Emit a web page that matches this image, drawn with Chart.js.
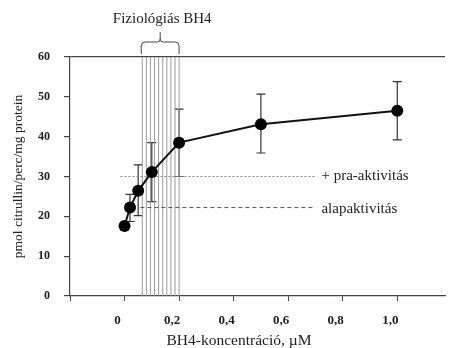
<!DOCTYPE html>
<html><head><meta charset="utf-8">
<script src="https://cdn.jsdelivr.net/npm/chart.js@4"></script>
<style>html,body{margin:0;padding:0;background:#fff}#w{width:451px;height:348px;position:relative}</style>
</head><body><div id="w"><canvas id="c"></canvas></div>
<script>
// ---- data ----
const concentrations = [0, 0.02, 0.05, 0.1, 0.2, 0.5, 1.0];
const activity = [17.6, 22.2, 26.4, 31.1, 38.5, 43.1, 46.5];
const errUpper = [null, 25.5, 32.9, 38.5, 46.9, 50.7, 53.8];
const errLower = [null, 18.7, 20.2, 23.7, 30.0, 35.9, 39.2];
const xTicks = [-0.2, 0, 0.2, 0.4, 0.6, 0.8, 1.0];
const xTickLabels = ['', '0', '0,2', '0,4', '0,6', '0,8', '1,0'];
const yTicks = [0, 10, 20, 30, 40, 50, 60];
const physioLines = [0.065, 0.08, 0.095, 0.11, 0.125, 0.14, 0.155, 0.17, 0.185, 0.2];
const physioLabel = 'Fiziológiás BH4';
const praLevel = 30;
const praRange = [-0.015, 0.70];
const praLabel = '+ pra-aktivitás';
const basalLevel = 22.2;
const basalRange = [0.058, 0.70];
const basalLabel = 'alapaktivitás';
const xTitle = 'BH4-koncentráció, µM';
const yTitle = 'pmol citrullin/perc/mg protein';

const FONT = "'Liberation Serif', 'Times New Roman', serif";
const INK = '#222';

const datasets = [];
datasets.push({
  data: concentrations.map((x, i) => ({x, y: activity[i]})),
  borderColor: '#111', borderWidth: 2,
  pointRadius: 6, pointBackgroundColor: '#000', pointBorderColor: '#000', pointBorderWidth: 0,
  order: 0
});
physioLines.forEach(x => datasets.push({
  data: [{x, y: yTicks[0]}, {x, y: yTicks[yTicks.length - 1]}],
  borderColor: '#9a9a9a', borderWidth: 1, pointRadius: 0, order: 2
}));
datasets.push({
  data: [{x: praRange[0], y: praLevel}, {x: praRange[1], y: praLevel}],
  borderColor: '#888', borderWidth: 1, borderDash: [2, 2], pointRadius: 0, order: 1
});
datasets.push({
  data: [{x: basalRange[0], y: basalLevel}, {x: basalRange[1], y: basalLevel}],
  borderColor: '#555', borderWidth: 1, borderDash: [4, 3], pointRadius: 0, order: 1
});

const annot = {
  id: 'annot',
  beforeDatasetsDraw(chart) {
    const {ctx, scales: {x, y}} = chart;
    ctx.save();
    ctx.strokeStyle = '#333';
    ctx.lineWidth = 1.2;
    concentrations.forEach((c, i) => {
      if (errUpper[i] == null) return;
      const px = x.getPixelForValue(c);
      const t = y.getPixelForValue(errUpper[i]);
      const b = y.getPixelForValue(errLower[i]);
      ctx.beginPath();
      ctx.moveTo(px, t); ctx.lineTo(px, b);
      ctx.moveTo(px - 4.5, t); ctx.lineTo(px + 4.5, t);
      ctx.moveTo(px - 4.5, b); ctx.lineTo(px + 4.5, b);
      ctx.stroke();
    });
    ctx.restore();
  },
  afterDraw(chart) {
    const {ctx, chartArea, scales: {x, y}} = chart;
    ctx.save();
    // brace
    const x1 = x.getPixelForValue(physioLines[0]) - 1;
    const x2 = x.getPixelForValue(physioLines[physioLines.length - 1]);
    const xm = (x1 + x2) / 2;
    const top = chartArea.top;
    ctx.strokeStyle = '#444';
    ctx.lineWidth = 1;
    ctx.beginPath();
    ctx.moveTo(x1, top - 3);
    ctx.lineTo(x1, top - 11);
    ctx.quadraticCurveTo(x1, top - 15, x1 + 4, top - 15);
    ctx.lineTo(xm - 3, top - 15);
    ctx.quadraticCurveTo(xm, top - 15, xm, top - 18);
    ctx.lineTo(xm, top - 25);
    ctx.moveTo(xm, top - 18);
    ctx.quadraticCurveTo(xm, top - 15, xm + 3, top - 15);
    ctx.lineTo(x2 - 4, top - 15);
    ctx.quadraticCurveTo(x2, top - 15, x2, top - 11);
    ctx.lineTo(x2, top - 3);
    ctx.stroke();
    ctx.fillStyle = INK;
    ctx.font = '15px ' + FONT;
    ctx.textAlign = 'center';
    ctx.textBaseline = 'middle';
    ctx.fillText(physioLabel, xm + 2, 19);
    // line labels
    ctx.textAlign = 'left';
    ctx.fillText(praLabel, x.getPixelForValue(praRange[1]) + 6, y.getPixelForValue(praLevel));
    ctx.fillText(basalLabel, x.getPixelForValue(basalRange[1]) + 6, y.getPixelForValue(basalLevel) + 1);
    // x title
    ctx.textAlign = 'center';
    ctx.font = '15.5px ' + FONT;
    ctx.fillText(xTitle, chartArea.left + 169, 341);
    ctx.restore();
  }
};

new Chart(document.getElementById('c'), {
  type: 'line',
  data: {datasets},
  options: {
    responsive: true, maintainAspectRatio: false, animation: false,
    layout: {padding: {top: 57, left: 0, right: 0, bottom: 0}},
    plugins: {legend: {display: false}, tooltip: {enabled: false}},
    scales: {
      x: {
        type: 'linear', min: -0.2, max: 1.175,
        afterBuildTicks: s => { s.ticks = xTicks.map(v => ({value: v})); },
        afterFit: s => { s.height = 52; },
        ticks: {
          callback: (v, i) => xTickLabels[i],
          font: {family: FONT, size: 13, weight: 'bold'}, color: INK,
          padding: 12, labelOffset: -7, maxRotation: 0, autoSkip: false
        },
        grid: {color: 'transparent', tickColor: '#444', tickLength: 5, drawTicks: true},
        border: {display: true, color: '#444', width: 1.2}
      },
      y: {
        type: 'linear', min: 0, max: 60,
        afterBuildTicks: s => { s.ticks = yTicks.map(v => ({value: v})); },
        afterFit: s => { s.width = 70; },
        ticks: {font: {family: FONT, size: 12, weight: 'bold'}, color: INK, padding: 14},
        grid: {color: c => (c.tick && c.tick.value === 60) ? '#444' : 'transparent', tickColor: '#444', tickLength: 6, lineWidth: 1.2},
        border: {display: true, color: '#444', width: 1.2},
        title: {display: true, text: yTitle, font: {family: FONT, size: 13.5}, color: INK, padding: {top: 10, bottom: 0}}
      }
    }
  },
  plugins: [annot]
});
</script>
</body></html>
